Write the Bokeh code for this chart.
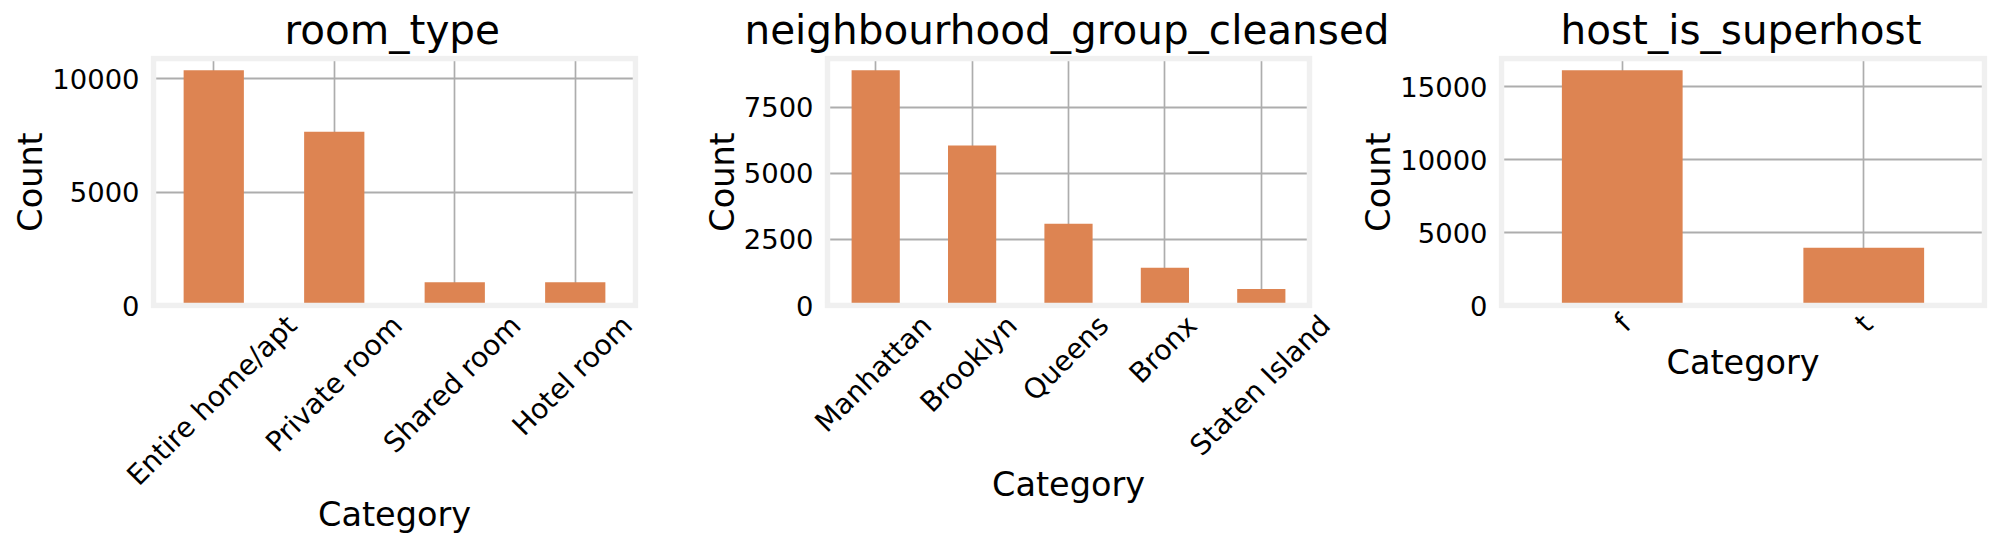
import math
from bokeh.embed import file_html
from bokeh.resources import INLINE
from bokeh.plotting import figure
from bokeh.layouts import row
from bokeh.models import FixedTicker, Range1d, ColumnDataSource

FONT = "DejaVu Sans"

room_cats = ["Entire home/apt", "Private room", "Shared room", "Hotel room"]
room_vals = [10370, 7660, 1030, 1030]
room_ticks = [0, 5000, 10000]

hood_cats = ["Manhattan", "Brooklyn", "Queens", "Bronx", "Staten Island"]
hood_vals = [8895, 6050, 3094, 1427, 622]
hood_ticks = [0, 2500, 5000, 7500]

host_cats = ["f", "t"]
host_vals = [16120, 3953]
host_ticks = [0, 5000, 10000, 15000]

titles = ["room_type", "neighbourhood_group_cleansed", "host_is_superhost"]

BAR = "#dd8452"
GRID = "#adadad"
FRAME = "#f0f0f0"
BOX_H = 247     # height of the drawn box
TOP = 58        # top of the drawn box in the canvas
HEIGHT = 541
PAD = 3         # white room round the box inside the bokeh frame, for the box's thick line


def panel(title, cats, vals, ticks, width, left, box_w, shifts, pad_side, title_x, tick_standoff, x_standoff, margin):
    idx = list(range(len(cats)))
    n = len(cats)
    ymax = max(vals) * 1.05
    ux = n / box_w
    uy = ymax / BOX_H
    p = figure(width=width, height=HEIGHT, title=title, output_backend="svg", toolbar_location=None,
               x_range=Range1d(-0.5 - pad_side * ux, n - 0.5 + pad_side * ux),
               y_range=Range1d(-PAD * uy, ymax + PAD * uy),
               tools="", min_border_left=left - pad_side, min_border_right=width - left - box_w - pad_side,
               min_border_top=TOP - PAD, min_border_bottom=HEIGHT - TOP - BOX_H - PAD, margin=margin)
    p.frame_width = box_w + 2 * pad_side
    p.frame_height = BOX_H + 2 * PAD
    p.background_fill_color = None
    p.border_fill_color = None
    p.outline_line_color = None

    p.title.align = "left"
    p.title.offset = title_x + pad_side - PAD
    p.title.text_font = FONT
    p.title.text_font_size = "40.5px"
    p.title.text_font_style = "normal"
    p.title.text_color = "black"
    p.title.standoff = 3

    p.xgrid.ticker = FixedTicker(ticks=idx)
    p.ygrid.ticker = FixedTicker(ticks=ticks)
    p.xgrid.cross_bounds = (0, ymax)
    p.ygrid.cross_bounds = (-0.5, n - 0.5)
    p.xgrid.grid_line_color = GRID
    p.ygrid.grid_line_color = GRID
    p.xgrid.grid_line_width = 1.7
    p.ygrid.grid_line_width = 2.2

    label_ticks = [round(i + s * ux, 4) for i, s in zip(idx, shifts)]
    p.xaxis.ticker = FixedTicker(ticks=label_ticks)
    p.xaxis.major_label_overrides = dict(zip(label_ticks, cats))
    p.xaxis.major_label_orientation = math.pi / 4
    p.xaxis.major_label_text_font = FONT
    p.xaxis.major_label_text_font_size = "28px"
    p.xaxis.major_label_text_color = "black"
    p.xaxis.major_label_standoff = tick_standoff
    p.xaxis.axis_line_color = None
    p.xaxis.major_tick_line_color = None
    p.xaxis.minor_tick_line_color = None
    p.xaxis.axis_label = "Category"
    p.xaxis.axis_label_text_font = FONT
    p.xaxis.axis_label_text_font_size = "33.5px"
    p.xaxis.axis_label_text_font_style = "normal"
    p.xaxis.axis_label_text_color = "black"
    p.xaxis.axis_label_standoff = x_standoff

    p.yaxis.ticker = FixedTicker(ticks=ticks)
    p.yaxis.axis_line_color = None
    p.yaxis.major_tick_line_color = None
    p.yaxis.minor_tick_line_color = None
    p.yaxis.major_label_text_font = FONT
    p.yaxis.major_label_text_font_size = "27.4px"
    p.yaxis.major_label_text_color = "black"
    p.yaxis.major_label_standoff = 8 - pad_side
    p.yaxis.axis_label = "Count"
    p.yaxis.axis_label_text_font = FONT
    p.yaxis.axis_label_text_font_size = "33.5px"
    p.yaxis.axis_label_text_font_style = "normal"
    p.yaxis.axis_label_text_color = "black"
    p.yaxis.axis_label_standoff = -1

    src = ColumnDataSource(dict(x=idx, top=vals))
    p.vbar(x="x", top="top", bottom=0, width=0.5, source=src, fill_color=BAR, line_color=None)
    p.quad(left=[-0.5], right=[n - 0.5], bottom=[0], top=[ymax], fill_color=None,
           line_color=FRAME, line_width=5.5, line_join="miter")
    return p


p1 = panel(titles[0], room_cats, room_vals, room_ticks, 689, 150, 482,
           [78, 63, 61, 52], 3, 134, 6, -12, (0, 0, 0, 3))
p2 = panel(titles[1], hood_cats, hood_vals, hood_ticks, 695, 130, 482,
           [51, 40, 35, 27, 64], 25, -80, 6, -12, (0, 0, 0, 5))
p3 = panel(titles[2], host_cats, host_vals, host_ticks, 652, 165, 483,
           [4, 4], 3, 62, 5, -11, (0, 0, 0, -56))

layout = row(p1, p2, p3, spacing=0)
open("out.html", "w").write(file_html(layout, INLINE))
